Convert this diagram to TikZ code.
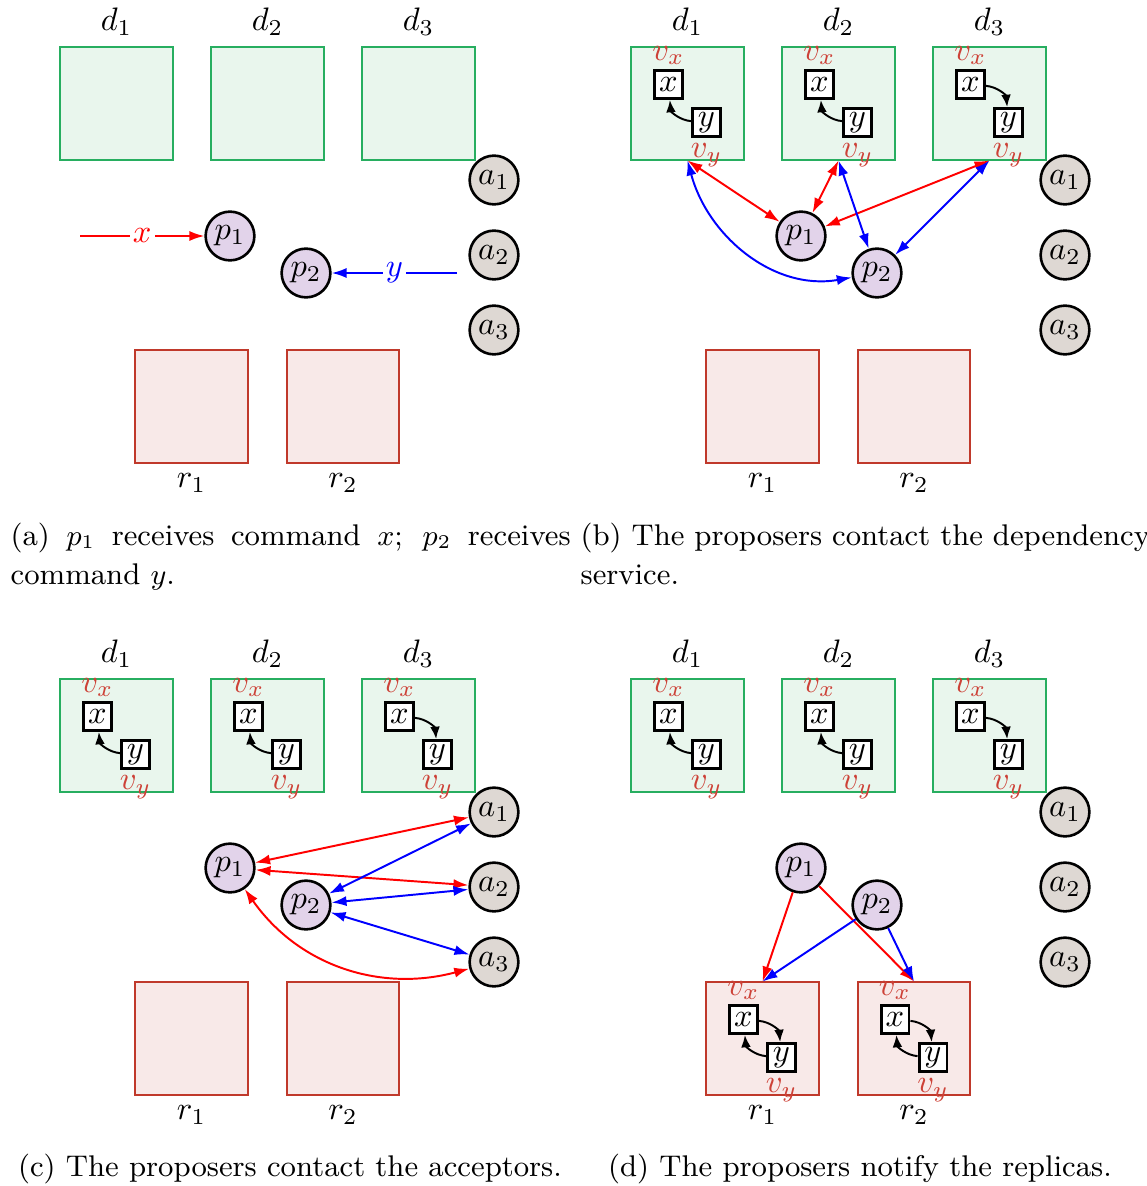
\documentclass[tikz,border=0pt]{standalone}
\usetikzlibrary{arrows.meta,calc}
\definecolor{dgreen}{RGB}{39,174,96}
\definecolor{dfill}{RGB}{233,246,237}
\definecolor{rred}{RGB}{192,57,43}
\definecolor{rfill}{RGB}{248,233,232}
\definecolor{pfill}{RGB}{226,211,234}
\definecolor{afill}{RGB}{222,216,211}
\definecolor{vcol}{RGB}{205,65,55}
\tikzset{
 dbox/.style={draw=dgreen, fill=dfill, line width=0.6pt, minimum size=34.5pt, inner sep=0pt},
 rbox/.style={draw=rred, fill=rfill, line width=0.6pt, minimum size=34.5pt, inner sep=0pt},
 pnode/.style={circle, draw, fill=pfill, line width=0.8pt, minimum size=15pt, inner sep=0pt},
 anode/.style={circle, draw, fill=afill, line width=0.8pt, minimum size=15pt, inner sep=0pt},
 cmd/.style={draw, fill=white, line width=0.9pt, minimum size=8.6pt, inner sep=0.5pt},
 vlab/.style={text=vcol, inner sep=0pt},
 tip/.style={-{Latex[length=4.6pt,width=3.1pt]}},
 twoway/.style={{Latex[length=4.6pt,width=3.1pt]}-{Latex[length=4.6pt,width=3.1pt]}},
 redarr/.style={red, line width=0.6pt},
 bluearr/.style={blue, line width=0.6pt},
 dep/.style={black, line width=0.6pt, -{Latex[length=3.8pt,width=3pt]}},
 captext/.style={inner sep=0pt, font=\fontsize{9.2}{12}\selectfont},
}
% base layout of one panel: #1 suffix, #2 x offset, #3 y offset
\newcommand\basepanel[3]{%
\begin{scope}[shift={(#2,#3)}]
 \node[dbox] (d1#1) at (116.5,103.5) {};
 \node[dbox] (d2#1) at (267.5,103.5) {};
 \node[dbox] (d3#1) at (418.5,103.5) {};
 \node (ld1#1) at (116.5,22) {$d_1$};
 \node (ld2#1) at (267.5,22) {$d_2$};
 \node (ld3#1) at (418.5,22) {$d_3$};
 \node[anode] (a1#1) at (494,180) {$a_1$};
 \node[anode] (a2#1) at (494,255) {$a_2$};
 \node[anode] (a3#1) at (494,330) {$a_3$};
 \node[pnode] (p1#1) at (230,236) {$p_1$};
 \node[pnode] (p2#1) at (306,273) {$p_2$};
 \node[rbox] (r1#1) at (191.5,406.5) {};
 \node[rbox] (r2#1) at (343,406.5) {};
 \node (lr1#1) at (191.5,483) {$r_1$};
 \node (lr2#1) at (343,483) {$r_2$};
\end{scope}}
% command boxes inside a box: #1 parent node, #2 prefix
\newcommand\cmdset[2]{%
 \node[cmd] (#2x) at ($(#1)+(-19,-19)$) {$x$};
 \node[cmd] (#2y) at ($(#1)+(19,19)$) {$y$};
 \node[vlab] (#2vx) at ($(#1)+(-19,-48)$) {$v_x$};
 \node[vlab] (#2vy) at ($(#1)+(19,52)$) {$v_y$};}
\newcommand\yxdep[1]{\draw[dep] (#1y) to[bend left=40] (#1x);}
\newcommand\xydep[1]{\draw[dep] (#1x) to[bend left=40] (#1y);}
\begin{document}
\begin{tikzpicture}[x=0.30769pt,y=-0.30769pt]
\useasboundingbox (0,0) rectangle (1146,1186);
\basepanel{a}{0}{0}
\basepanel{b}{571}{0}
\basepanel{c}{0}{632}
\basepanel{d}{571}{632}

% panel a
\coordinate (xin) at (80,236);
\coordinate (yin) at (457,273);
\draw[redarr,tip] (xin) -- node[fill=white,inner sep=1pt,text=red]{$x$} (p1a);
\draw[bluearr,tip] (yin) -- node[fill=white,inner sep=1pt,text=blue]{$y$} (p2a);

% panel b
\cmdset{d1b}{bA} \yxdep{bA}
\cmdset{d2b}{bB} \yxdep{bB}
\cmdset{d3b}{bC} \xydep{bC}
\draw[redarr,twoway] (d1b.south) -- (p1b);
\draw[redarr,twoway] (d2b.south) -- (p1b);
\draw[redarr,twoway] (d3b.south) -- (p1b);
\draw[bluearr,twoway] (d1b.south) to[out=-75,in=190] (p2b);
\draw[bluearr,twoway] (d2b.south) -- (p2b);
\draw[bluearr,twoway] (d3b.south) -- (p2b);

% panel c
\cmdset{d1c}{cA} \yxdep{cA}
\cmdset{d2c}{cB} \yxdep{cB}
\cmdset{d3c}{cC} \xydep{cC}
\draw[redarr,twoway] (p1c) -- (a1c);
\draw[redarr,twoway] (p1c) -- (a2c);
\draw[redarr,twoway] (p1c) to[out=-55,in=195] (a3c);
\draw[bluearr,twoway] (p2c) -- (a1c);
\draw[bluearr,twoway] (p2c) -- (a2c);
\draw[bluearr,twoway] (p2c) -- (a3c);

% panel d
\cmdset{d1d}{dA} \yxdep{dA}
\cmdset{d2d}{dB} \yxdep{dB}
\cmdset{d3d}{dC} \xydep{dC}
\cmdset{r1d}{dR} \xydep{dR} \yxdep{dR}
\cmdset{r2d}{dS} \xydep{dS} \yxdep{dS}
\draw[redarr,tip] (p1d) -- (r1d.north);
\draw[redarr,tip] (p1d) -- (r2d.north);
\draw[bluearr,tip] (p2d) -- (r1d.north);
\draw[bluearr,tip] (p2d) -- (r2d.north);

% captions
\node[captext, anchor=north west, text width=172.3pt, align=justify] (capa) at (10,522)
 {(a) $p_1$ receives command $x$; $p_2$ receives\linebreak command $y$.};
\node[captext, anchor=north west, text width=176pt, align=left] (capb) at (580,522)
 {(b) The proposers contact the dependency\\ service.};
\node[captext] (capc) at (290,1169) {(c) The proposers contact the acceptors.};
\node[captext] (capd) at (860,1169) {(d) The proposers notify the replicas.};
\end{tikzpicture}
\end{document}
